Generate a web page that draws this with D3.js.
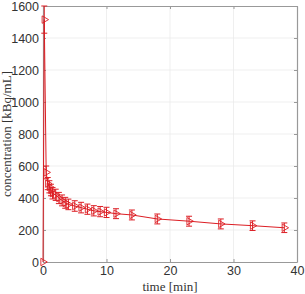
<!DOCTYPE html>
<html>
<head>
<meta charset="utf-8">
<script src="https://cdn.jsdelivr.net/npm/d3@7"></script>
<style>
  body { margin: 0; background: #fff; }
  svg { display: block; font-family: 'Liberation Serif', 'DejaVu Serif', serif; }
</style>
</head>
<body>
<svg id="chart" width="305" height="294"></svg>
<script>
// sample times [min], mean concentration [kBq/mL], error half-width
const times = [0, 0.2, 0.5, 0.75, 1, 1.25, 1.5, 2, 2.5, 3, 3.5, 4, 5, 6, 7, 8, 9, 10, 11.5, 14, 18, 23, 28, 33, 38];
const values = [0, 1515, 560, 490, 470, 450, 430, 420, 400, 385, 370, 360, 350, 340, 330, 320, 315, 310, 302, 294, 269, 255, 238, 227, 214];
const errors = [0, 85, 40, 38, 38, 36, 36, 35, 35, 34, 34, 33, 33, 33, 32, 32, 32, 32, 31, 31, 31, 31, 31, 30, 30];
const xTicks = [0, 10, 20, 30, 40];
const yTicks = [0, 200, 400, 600, 800, 1000, 1200, 1400, 1600];

const data = times.map((t, i) => ({ t, v: values[i], e: errors[i] }));

const svg = d3.select('#chart');
const margin = { top: 6, right: 8, bottom: 32, left: 43 };
const width = 305, height = 294;
const w = width - margin.left - margin.right;
const h = height - margin.top - margin.bottom;
const red = '#dc1e24';

const chart = svg.append('g')
  .attr('transform', `translate(${margin.left}, ${margin.top})`);

const x = d3.scaleLinear().domain([0, 40]).range([0, w]);
const y = d3.scaleLinear().domain([0, 1600]).range([h, 0]);

// grid
chart.append('g').selectAll('line')
  .data(xTicks.slice(1, -1))
  .enter().append('line')
  .attr('x1', d => x(d)).attr('x2', d => x(d))
  .attr('y1', 0).attr('y2', h)
  .attr('stroke', '#ebebeb').attr('stroke-width', 0.8);

chart.append('g').selectAll('line')
  .data(yTicks.slice(1, -1))
  .enter().append('line')
  .attr('x1', 0).attr('x2', w)
  .attr('y1', d => y(d)).attr('y2', d => y(d))
  .attr('stroke', '#ebebeb').attr('stroke-width', 0.8);

// axes (ticks inside)
const axisStyle = g => {
  g.select('.domain').attr('stroke', '#999');
  g.selectAll('.tick line').attr('stroke', '#999');
  g.selectAll('text').attr('fill', '#333').style('font-size', '12.5px');
};

chart.append('g')
  .attr('transform', `translate(0, ${h})`)
  .call(d3.axisBottom(x).tickValues(xTicks).tickFormat(d3.format('d')).tickSizeInner(-3).tickSizeOuter(0).tickPadding(4))
  .call(axisStyle);

chart.append('g')
  .call(d3.axisLeft(y).tickValues(yTicks).tickFormat(d3.format('d')).tickSizeInner(-3).tickSizeOuter(0).tickPadding(4))
  .call(axisStyle);

chart.append('g')
  .call(d3.axisTop(x).tickValues(xTicks).tickSizeInner(-3).tickSizeOuter(0).tickFormat(''))
  .call(axisStyle);

chart.append('g')
  .attr('transform', `translate(${w}, 0)`)
  .call(d3.axisRight(y).tickValues(yTicks).tickSizeInner(-3).tickSizeOuter(0).tickFormat(''))
  .call(axisStyle);

chart.selectAll('.domain').attr('stroke-width', 1.2);

// line
chart.append('path')
  .datum(data)
  .attr('fill', 'none')
  .attr('stroke', red)
  .attr('stroke-width', 1)
  .attr('d', d3.line().x(d => x(d.t)).y(d => y(d.v)));

// error bars
const eb = chart.append('g').selectAll('g')
  .data(data.filter(d => d.e > 0))
  .enter().append('g')
  .attr('stroke', red)
  .attr('stroke-width', 1);

eb.append('line')
  .attr('x1', d => x(d.t)).attr('x2', d => x(d.t))
  .attr('y1', d => y(Math.min(d.v + d.e, 1600))).attr('y2', d => y(d.v - d.e));
eb.append('line')
  .attr('x1', d => x(d.t) - 3).attr('x2', d => x(d.t) + 3)
  .attr('y1', d => y(Math.min(d.v + d.e, 1600))).attr('y2', d => y(Math.min(d.v + d.e, 1600)));
eb.append('line')
  .attr('x1', d => x(d.t) - 3).attr('x2', d => x(d.t) + 3)
  .attr('y1', d => y(d.v - d.e)).attr('y2', d => y(d.v - d.e));

// markers (right-pointing triangles)
chart.append('g').selectAll('path')
  .data(data)
  .enter().append('path')
  .attr('transform', d => `translate(${x(d.t)}, ${y(d.v)}) rotate(90)`)
  .attr('d', d3.symbol().type(d3.symbolTriangle).size(24))
  .attr('fill', 'none')
  .attr('stroke', red)
  .attr('stroke-width', 0.9);

// labels
svg.append('text')
  .attr('x', margin.left + w / 2)
  .attr('y', height - 3)
  .attr('text-anchor', 'middle')
  .attr('fill', '#333')
  .style('font-size', '13px')
  .text('time [min]');

svg.append('text')
  .attr('transform', 'rotate(-90)')
  .attr('x', -(margin.top + h / 2))
  .attr('y', 11)
  .attr('text-anchor', 'middle')
  .attr('fill', '#333')
  .style('font-size', '13px')
  .text('concentration [kBq/mL]');
</script>
</body>
</html>
